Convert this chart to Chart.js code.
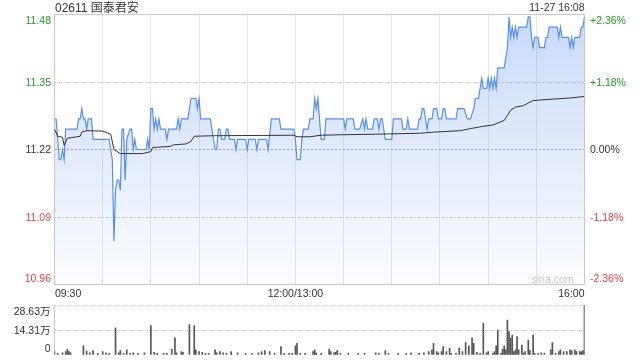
<!DOCTYPE html>
<html><head><meta charset="utf-8">
<script src="https://cdn.jsdelivr.net/npm/chart.js@4.4.1/dist/chart.umd.min.js"></script>
<style>
html,body{margin:0;padding:0;background:#fff;}
#wrap{position:relative;width:640px;height:360px;overflow:hidden;background:#fff;}
#main{position:absolute;left:0;top:0;}
#vol{position:absolute;left:0;top:300px;}
</style></head><body>
<div id="wrap">
<canvas id="main" width="640" height="300"></canvas>
<canvas id="vol" width="640" height="60"></canvas>
</div>
<script>
// ---- data ----
const stockTitle = '02611 国泰君安';
const stampText = '11-27 16:08';
const watermark = 'sina.com';
const prevClose = 11.22;
const pctRange = 2.36;
const priceTickLabels = ['10.96', '11.09', '11.22', '11.35', '11.48'];
const pctTickLabels = ['-2.36%', '-1.18%', '0.00%', '+1.18%', '+2.36%'];
const timeLabels = ['09:30', '12:00/13:00', '16:00'];
const timeLabelMinutes = [0, 150, 330];

// minutes since 09:30 (lunch break removed)
const priceMinutes = [
  0,1,2,3,4,5,6,7,14,15,
  16,17,18,19,20,21,23,24,34,35,
  36,37,38,39,40,41,42,43,44,45,
  47,48,49,50,51,57,58,59,60,61,
  62,63,64,65,66,69,70,71,76,77,
  78,79,83,84,85,88,89,90,91,97,
  98,100,101,102,103,104,106,107,108,109,
  112,113,114,119,120,121,125,126,127,132,
  133,135,140,141,149,150,151,153,154,155,
  158,159,161,162,163,164,165,166,168,169,
  180,181,182,186,187,190,192,193,194,195,
  198,199,201,202,203,204,205,206,210,211,
  216,217,219,220,221,226,227,228,229,230,
  231,232,233,235,236,238,239,241,242,243,
  244,250,251,255,257,259,261,262,264,265,
  266,267,269,270,271,272,273,274,275,276,
  280,281,282,283,284,285,286,287,288,289,
  294,295,296,297,298,299,301,302,305,306,
  307,308,313,314,315,316,320,321,322,323,
  324,327,328,329,330
];
const prices = [
  11.28,11.28,11.24,11.20,11.20,11.22,11.20,11.26,11.26,11.28,
  11.28,11.30,11.28,11.28,11.26,11.28,11.28,11.24,11.24,11.22,
  11.20,11.04,11.14,11.16,11.16,11.14,11.26,11.26,11.16,11.24,
  11.26,11.26,11.22,11.24,11.22,11.22,11.24,11.22,11.30,11.30,
  11.26,11.28,11.26,11.28,11.26,11.26,11.24,11.26,11.26,11.28,
  11.26,11.28,11.28,11.30,11.32,11.32,11.30,11.32,11.28,11.28,
  11.26,11.22,11.22,11.26,11.26,11.24,11.24,11.26,11.26,11.24,
  11.24,11.22,11.24,11.24,11.22,11.24,11.24,11.22,11.24,11.24,
  11.22,11.28,11.28,11.26,11.26,11.24,11.20,11.20,11.24,11.26,
  11.26,11.28,11.28,11.32,11.30,11.32,11.28,11.24,11.24,11.28,
  11.28,11.26,11.28,11.28,11.26,11.26,11.28,11.26,11.28,11.26,
  11.26,11.28,11.28,11.26,11.28,11.28,11.26,11.24,11.24,11.28,
  11.28,11.26,11.26,11.28,11.26,11.26,11.28,11.28,11.30,11.30,
  11.28,11.26,11.28,11.28,11.30,11.30,11.28,11.28,11.30,11.30,
  11.28,11.28,11.30,11.30,11.28,11.28,11.30,11.32,11.32,11.34,
  11.36,11.34,11.34,11.36,11.34,11.36,11.34,11.36,11.34,11.38,
  11.38,11.40,11.42,11.48,11.44,11.46,11.44,11.46,11.44,11.46,
  11.46,11.48,11.48,11.44,11.42,11.44,11.44,11.42,11.42,11.44,
  11.44,11.46,11.46,11.44,11.46,11.44,11.44,11.42,11.44,11.42,
  11.44,11.44,11.46,11.46,11.48
];

const avgMinutes = [
  0,2,5,6,8,16,17,20,30,35,
  37,41,55,60,61,72,74,82,85,87,
  99,149,151,159,166,180,200,228,236,253,
  259,266,273,276,280,282,284,287,292,296,
  298,311,321,330
];
const avgPrices = [
  11.260,11.246,11.244,11.228,11.242,11.246,11.254,11.257,11.256,11.250,
  11.220,11.212,11.212,11.216,11.224,11.226,11.229,11.231,11.236,11.246,
  11.247,11.248,11.245,11.245,11.248,11.249,11.250,11.252,11.254,11.257,
  11.261,11.265,11.268,11.272,11.277,11.287,11.297,11.303,11.306,11.313,
  11.316,11.319,11.321,11.324
];

// volume in 万股
const volMinutes = [
  0,2,5,7,8,9,10,18,20,22,
  24,27,30,32,34,38,40,41,43,45,
  47,49,52,56,60,62,64,68,70,73,
  75,76,79,80,84,87,88,90,92,94,
  96,100,101,103,105,107,110,114,119,123,
  127,129,131,134,137,141,143,146,148,150,
  151,153,156,161,162,163,166,171,172,174,
  175,176,178,183,189,193,200,202,206,208,
  214,219,222,227,230,233,235,236,238,239,
  241,242,244,246,247,250,252,254,256,258,
  260,261,263,265,267,269,270,273,274,275,
  276,278,279,280,281,282,283,284,285,286,
  287,288,289,291,292,293,295,296,298,299,
  301,303,305,309,310,312,314,315,317,319,
  321,322,324,325,327,328,329,330
];
const volumes = [
  1.9,1.0,1.3,1.9,3.2,1.9,1.3,5.2,2.3,1.3,
  2.5,1.0,1.9,1.3,1.0,15.6,1.3,2.5,1.0,2.9,
  1.0,1.3,1.0,1.3,16.8,1.5,1.0,1.0,1.0,3.2,
  9.9,1.3,1.9,1.5,17.4,16.8,2.9,1.9,1.5,1.0,
  1.0,2.9,1.3,1.9,1.3,1.0,1.9,1.3,1.0,1.0,
  1.3,1.9,2.5,1.9,1.0,4.8,1.0,1.0,1.0,5.2,
  6.7,1.0,1.0,1.9,2.9,1.3,1.0,3.4,1.9,1.3,
  1.5,2.5,1.0,1.0,1.0,1.0,1.3,1.0,2.5,1.0,
  1.0,1.0,1.3,1.0,1.3,1.9,2.9,6.7,1.9,1.3,
  1.9,4.8,1.9,3.8,1.0,1.0,4.0,1.9,7.1,5.2,
  9.9,6.7,1.5,1.0,18.1,1.3,1.9,1.0,1.9,5.2,
  14.3,1.0,3.2,5.2,2.9,20.0,13.4,9.5,11.4,1.9,
  2.9,10.5,2.9,5.7,1.3,1.9,8.6,2.5,11.4,1.0,
  1.0,1.3,1.0,2.9,7.1,1.0,1.9,2.9,1.9,1.9,
  2.9,2.5,2.9,1.9,1.9,1.9,2.5,28.6
];
const volTickValues = [0, 14.31, 28.63];
const volTickLabels = ['0', '14.31万', '28.63万'];

// ---- styling helpers ----
const FONT = '"Liberation Sans", Arial, "Noto Sans CJK SC", sans-serif';
const UP = '#1f9e1f', DOWN = '#ee3b3b', FLAT = '#333333';
const GRID = '#cdcdcd', FRAME = '#c8c8c8';

const yMin = prevClose * (1 - pctRange / 100);
const yMax = prevClose * (1 + pctRange / 100);
const yTicks = [-2, -1, 0, 1, 2].map(k => prevClose * (1 + k * pctRange / 200));
const tickColor = i => (i > 2 ? UP : (i < 2 ? DOWN : FLAT));

const priceData = priceMinutes.map((m, i) => ({ x: m, y: prices[i] }));
const avgData = avgMinutes.map((m, i) => ({ x: m, y: avgPrices[i] }));
const volData = volMinutes.map((m, i) => ({ x: m, y: volumes[i] }));

function txt(ctx, s, x, baseline, align, color, size) {
  ctx.font = size + 'px ' + FONT;
  ctx.textAlign = align;
  ctx.textBaseline = 'alphabetic';
  ctx.fillStyle = color;
  ctx.fillText(s, x, baseline);
}

const mainDecor = {
  id: 'mainDecor',
  beforeDatasetsDraw(chart) {
    const a = chart.chartArea, ctx = chart.ctx;
    ctx.save();
    ctx.strokeStyle = FRAME; ctx.lineWidth = 1;
    const l = Math.floor(a.left) + 0.5, t = Math.floor(a.top) + 0.5;
    ctx.strokeRect(l, t, Math.floor(a.right) - Math.floor(a.left), Math.floor(a.bottom) - Math.floor(a.top));
    ctx.restore();
  },
  afterDraw(chart) {
    const a = chart.chartArea, ctx = chart.ctx;
    const ys = chart.scales.y, xs = chart.scales.x;
    ctx.save();
    yTicks.forEach((v, i) => {
      let c = ys.getPixelForValue(v);
      c = Math.min(Math.max(c, a.top + 5.5), a.bottom - 6);
      txt(ctx, priceTickLabels[i], 51, c + 3.8, 'right', tickColor(i), 10.5);
      txt(ctx, pctTickLabels[i], 590, c + 3.8, 'left', tickColor(i), 10.5);
    });
    timeLabelMinutes.forEach((m, i) => {
      const px = xs.getPixelForValue(m);
      const align = i === 0 ? 'left' : (i === timeLabelMinutes.length - 1 ? 'right' : 'center');
      txt(ctx, timeLabels[i], px + (i === 0 ? 0.5 : 0), 296.5, align, FLAT, 10.5);
    });
    txt(ctx, stockTitle, a.left + 0.5, 11.5, 'left', FLAT, 12);
    txt(ctx, stampText, a.right, 11.2, 'right', FLAT, 10.5);
    txt(ctx, watermark, 552.5, 282.5, 'center', '#c8c8c8', 10.5);
    ctx.restore();
  }
};

new Chart(document.getElementById('main'), {
  type: 'line',
  data: {
    datasets: [
      { data: avgData, borderColor: '#333333', borderWidth: 1, pointRadius: 0, fill: false, tension: 0 },
      {
        data: priceData, borderColor: '#5590ee', borderWidth: 1.2, pointRadius: 0, tension: 0,
        fill: 'start',
        backgroundColor(ctx) {
          const a = ctx.chart.chartArea;
          if (!a) return 'rgba(60,120,230,0.15)';
          const g = ctx.chart.ctx.createLinearGradient(0, a.top, 0, a.bottom);
          g.addColorStop(0, 'rgba(60,120,230,0.28)');
          g.addColorStop(1, 'rgba(60,120,230,0.02)');
          return g;
        }
      }
    ]
  },
  options: {
    responsive: false, animation: false, devicePixelRatio: 1,
    layout: { padding: { left: 54.5, right: 55.5, top: 14.5, bottom: 15.5 } },
    plugins: { legend: { display: false }, tooltip: { enabled: false } },
    scales: {
      x: {
        type: 'linear', min: 0, max: 330,
        afterFit(s) { s.height = 0; },
        ticks: { display: false, stepSize: 30, autoSkip: false },
        grid: { drawTicks: false, color: GRID, lineWidth: 1 },
        border: { display: false, dash: [1, 1] }
      },
      y: {
        type: 'linear', min: yMin, max: yMax,
        afterFit(s) { s.width = 0; },
        afterBuildTicks(s) { s.ticks = yTicks.map(v => ({ value: v })); },
        ticks: { display: false, autoSkip: false },
        grid: {
          drawTicks: false, lineWidth: 1,
          color: c => (c.tick && Math.abs(c.tick.value - prevClose) < 1e-6 ? '#a8a8a8' : GRID)
        },
        border: {
          display: false,
          dash: c => (c.tick && Math.abs(c.tick.value - prevClose) < 1e-6 ? [2, 2] : [1, 1])
        }
      }
    }
  },
  plugins: [mainDecor]
});

const volDecor = {
  id: 'volDecor',
  beforeDatasetsDraw(chart) {
    const a = chart.chartArea, ctx = chart.ctx;
    ctx.save();
    ctx.strokeStyle = FRAME; ctx.lineWidth = 1;
    ctx.beginPath();
    const l = Math.floor(a.left) + 0.5, r = Math.floor(a.right) + 0.5;
    ctx.moveTo(l, a.top); ctx.lineTo(l, a.bottom);
    ctx.moveTo(r, a.top); ctx.lineTo(r, a.bottom);
    ctx.stroke();
    ctx.restore();
  },
  afterDraw(chart) {
    const a = chart.chartArea, ctx = chart.ctx, ys = chart.scales.y;
    ctx.save();
    volTickValues.forEach((v, i) => {
      let c = ys.getPixelForValue(v);
      c = Math.min(Math.max(c, a.top + 5.7), a.bottom - 6.7);
      txt(ctx, volTickLabels[i], 50.5, c + 3.8, 'right', FLAT, 10.5);
    });
    ctx.restore();
  }
};

new Chart(document.getElementById('vol'), {
  type: 'bar',
  data: { datasets: [{ data: volData, backgroundColor: '#555555', borderWidth: 0, barThickness: 1 }] },
  options: {
    responsive: false, animation: false, devicePixelRatio: 1,
    layout: { padding: { left: 54.5, right: 55.5, top: 5, bottom: 5 } },
    plugins: { legend: { display: false }, tooltip: { enabled: false } },
    scales: {
      x: {
        type: 'linear', min: 0, max: 330, offset: false,
        afterFit(s) { s.height = 0; },
        ticks: { display: false },
        grid: { display: false, offset: false },
        border: { display: false }
      },
      y: {
        type: 'linear', min: 0, max: 28.63,
        afterFit(s) { s.width = 0; },
        afterBuildTicks(s) { s.ticks = volTickValues.map(v => ({ value: v })); },
        ticks: { display: false, autoSkip: false },
        grid: { drawTicks: false, lineWidth: 1, color: c => (c.tick && c.tick.value === 0 ? 'rgba(0,0,0,0)' : GRID) },
        border: { display: false, dash: [1, 1] }
      }
    }
  },
  plugins: [volDecor]
});
</script>
</body></html>
